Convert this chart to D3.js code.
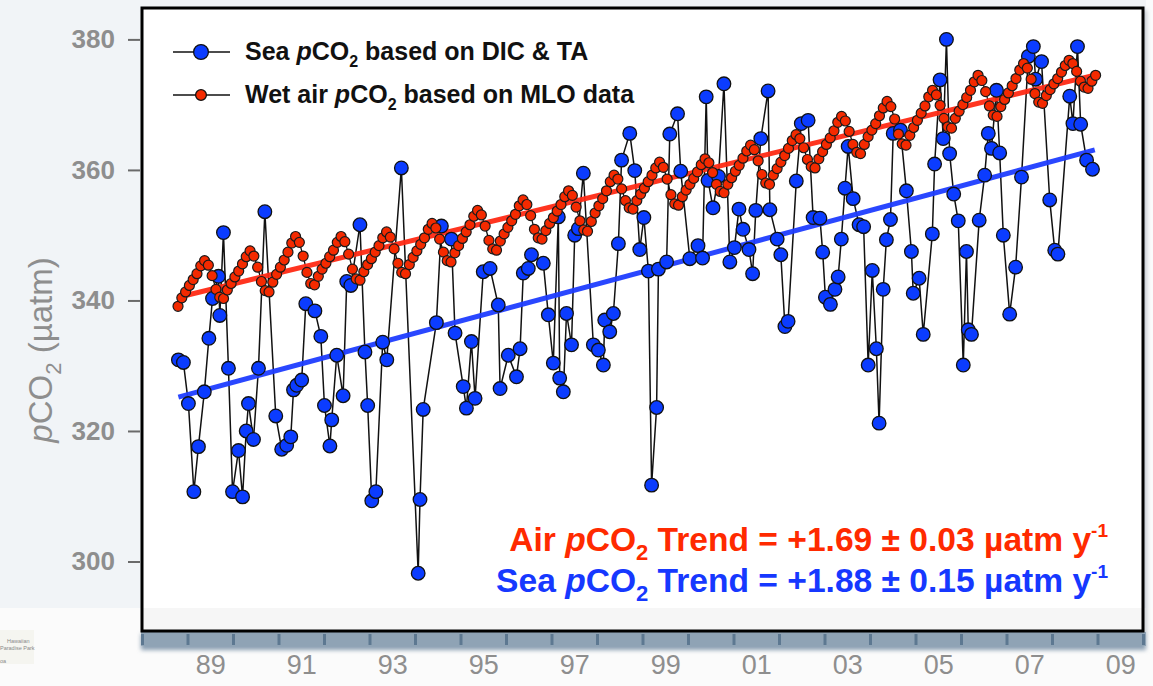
<!DOCTYPE html>
<html>
<head>
<meta charset="utf-8">
<script src="https://cdn.jsdelivr.net/npm/d3@7"></script>
<style>
  html, body { margin: 0; padding: 0; background: #f2f4f7; }
  svg { display: block; }
</style>
</head>
<body>
<svg id="chart" width="1153" height="686"></svg>
<script>
// ---- Sea pCO2 (HOT, computed from DIC & TA): decimal year / µatm ----
const seaYear = [
  1988.80, 1988.91, 1989.02, 1989.14, 1989.24, 1989.37, 1989.47, 1989.55, 1989.68, 1989.71,
  1989.79, 1989.90, 1989.99, 1990.12, 1990.21, 1990.29, 1990.34, 1990.45, 1990.56, 1990.70,
  1990.94, 1991.07, 1991.18, 1991.27, 1991.33, 1991.40, 1991.51, 1991.60, 1991.80, 1991.93,
  1992.01, 1992.13, 1992.17, 1992.28, 1992.42, 1992.50, 1992.59, 1992.79, 1992.90, 1992.96,
  1993.05, 1993.14, 1993.29, 1993.38, 1993.70, 1994.07, 1994.11, 1994.18, 1994.47, 1994.58,
  1994.80, 1994.88, 1995.06, 1995.13, 1995.24, 1995.32, 1995.50, 1995.65, 1995.83, 1995.87,
  1996.05, 1996.23, 1996.31, 1996.38, 1996.49, 1996.56, 1996.82, 1996.93, 1997.04, 1997.15,
  1997.18, 1997.26, 1997.33, 1997.44, 1997.51, 1997.59, 1997.70, 1997.92, 1998.03, 1998.14,
  1998.17, 1998.28, 1998.36, 1998.47, 1998.54, 1998.72, 1998.83, 1998.94, 1999.03, 1999.13,
  1999.20, 1999.31, 1999.35, 1999.53, 1999.60, 1999.77, 1999.84, 2000.04, 2000.22, 2000.32,
  2000.40, 2000.44, 2000.55, 2000.67, 2000.79, 2000.92, 2001.02, 2001.12, 2001.21, 2001.34,
  2001.42, 2001.49, 2001.60, 2001.76, 2001.80, 2001.96, 2002.04, 2002.13, 2002.20, 2002.38,
  2002.49, 2002.64, 2002.75, 2002.90, 2002.96, 2003.02, 2003.13, 2003.23, 2003.30, 2003.37,
  2003.45, 2003.52, 2003.63, 2003.76, 2003.86, 2003.96, 2004.05, 2004.14, 2004.20, 2004.29,
  2004.36, 2004.45, 2004.51, 2004.67, 2004.80, 2004.91, 2004.95, 2005.08, 2005.17, 2005.37,
  2005.42, 2005.54, 2005.61, 2005.68, 2005.75, 2005.84, 2005.94, 2006.05, 2006.12, 2006.16,
  2006.23, 2006.40, 2006.52, 2006.60, 2006.67, 2006.78, 2006.85, 2006.93, 2007.07, 2007.20,
  2007.33, 2007.48, 2007.59, 2007.64, 2007.77, 2007.95, 2008.06, 2008.13, 2008.39, 2008.46,
  2008.56, 2008.63, 2008.76, 2008.89
];
const seaPco2 = [
  330.9, 330.5, 324.2, 310.7, 317.6, 326.0, 334.2, 340.3, 343.7, 337.7,
  350.4, 329.6, 310.7, 317.0, 309.9, 320.0, 324.2, 318.7, 329.6, 353.6,
  322.3, 317.2, 317.8, 319.1, 326.3, 327.0, 327.8, 339.5, 338.4, 334.5,
  323.9, 317.7, 321.7, 331.6, 325.4, 342.9, 342.3, 351.6, 332.1, 323.9,
  309.3, 310.7, 333.6, 330.9, 360.3, 298.2, 309.5, 323.3, 336.6, 351.4,
  349.4, 335.0, 326.8, 323.5, 333.7, 325.0, 344.4, 344.9, 339.3, 326.5,
  331.6, 328.3, 332.6, 344.2, 344.9, 347.0, 345.7, 337.8, 330.4, 352.8,
  328.1, 326.0, 338.0, 333.2, 350.0, 351.0, 359.5, 333.2, 332.4, 330.1,
  337.0, 335.2, 338.0, 348.7, 361.5, 365.6, 359.9, 347.8, 352.7, 344.5,
  311.7, 323.6, 344.8, 345.9, 365.5, 368.6, 359.8, 346.4, 348.4, 346.5,
  371.2, 358.4, 354.2, 359.0, 373.2, 345.9, 348.1, 354.0, 350.9, 347.8,
  344.1, 353.8, 364.8, 372.1, 353.9, 349.4, 347.0, 336.0, 336.8, 358.3,
  367.1, 367.6, 352.7, 352.6, 347.4, 340.5, 339.4, 341.7, 343.6, 349.4,
  357.2, 363.6, 355.6, 351.6, 351.3, 330.1, 344.6, 332.6, 321.2, 341.7,
  349.3, 352.4, 365.6, 366.1, 356.8, 347.5, 341.1, 343.4, 334.8, 350.2,
  360.9, 373.8, 364.8, 380.0, 362.5, 356.3, 352.2, 330.1, 347.5, 335.5,
  334.8, 352.3, 359.2, 365.6, 363.3, 372.2, 362.6, 350.0, 337.9, 345.1,
  358.9, 377.4, 378.9, 373.9, 376.6, 355.4, 347.7, 347.1, 371.3, 367.1,
  378.9, 367.0, 361.5, 360.1
];

// ---- Wet air pCO2 from Mauna Loa, monthly from Oct 1988 to Dec 2008 (µatm) ----
const airFirstMonth = { year: 1988, month: 9 };   // October 1988 (0-based month)
const airPco2 = [
  339.1, 340.4, 341.3,
  342.3, 343.2, 344.1, 345.3, 346.1, 345.4, 343.8, 341.7, 340.5, 340.3, 341.6, 342.6,
  343.6, 344.5, 345.6, 346.7, 347.6, 346.8, 345.1, 342.9, 341.5, 341.3, 342.8, 344.0,
  345.1, 346.2, 347.4, 348.8, 349.8, 348.9, 346.8, 344.3, 342.6, 342.4, 343.7, 344.8,
  345.7, 346.7, 347.7, 348.9, 349.8, 349.0, 347.1, 344.8, 343.3, 343.1, 344.4, 345.5,
  346.4, 347.4, 348.4, 349.6, 350.5, 349.7, 347.9, 345.7, 344.3, 344.1, 345.5, 346.6,
  347.6, 348.6, 349.6, 350.9, 351.8, 351.1, 349.4, 347.4, 346.1, 345.9, 347.3, 348.4,
  349.5, 350.5, 351.6, 352.9, 353.8, 353.1, 351.4, 349.2, 347.9, 347.7, 349.1, 350.2,
  351.2, 352.2, 353.2, 354.5, 355.4, 354.7, 353.0, 350.9, 349.6, 349.4, 350.7, 351.8,
  352.7, 353.7, 354.7, 355.9, 356.8, 356.1, 354.3, 352.2, 350.8, 350.6, 352.1, 353.4,
  354.5, 355.6, 356.8, 358.2, 359.2, 358.6, 357.1, 355.3, 354.2, 354.0, 355.3, 356.3,
  357.2, 358.2, 359.2, 360.3, 361.2, 360.4, 358.6, 356.2, 354.8, 354.6, 355.9, 356.9,
  357.8, 358.7, 359.7, 360.8, 361.7, 361.1, 359.6, 357.8, 356.7, 356.5, 357.8, 358.8,
  359.8, 360.7, 361.8, 362.9, 363.8, 363.1, 361.4, 359.3, 358.0, 357.8, 359.2, 360.2,
  361.2, 362.2, 363.3, 364.5, 365.4, 364.8, 363.4, 361.6, 360.5, 360.3, 361.7, 362.8,
  363.9, 364.9, 366.0, 367.3, 368.2, 367.5, 365.9, 363.9, 362.7, 362.5, 363.9, 365.1,
  366.1, 367.1, 368.3, 369.5, 370.5, 369.7, 367.8, 365.5, 364.0, 363.8, 365.3, 366.5,
  367.6, 368.7, 369.8, 371.2, 372.2, 371.5, 369.9, 367.9, 366.6, 366.4, 367.9, 369.0,
  370.0, 371.1, 372.2, 373.5, 374.5, 373.7, 372.0, 369.8, 368.4, 368.2, 369.7, 370.8,
  371.8, 372.9, 374.0, 375.3, 376.3, 375.6, 373.9, 371.7, 370.4, 370.2, 371.4, 372.3,
  373.2, 374.0, 375.0, 376.0, 376.8, 376.3, 375.1, 373.6, 372.7, 372.5, 373.6, 374.5
];

// ---- Linear trends (slope in µatm per year) ----
const airTrend = { slope: 1.69, err: 0.03, from: 1988.98, to: 2008.94, startValue: 340.8 };
const seaTrend = { slope: 1.88, err: 0.15, from: 1988.80, to: 2008.94, startValue: 325.2 };

// ---- Axis ticks ----
const yTicks = [300, 320, 340, 360, 380];
const yearTicks = d3.range(1988, 2011);                 // yearly tick marks
const yearLabels = [1989, 1991, 1993, 1995, 1997, 1999, 2001, 2003, 2005, 2007, 2009];

// ---------------------------------------------------------------------------
const FONT = "'Liberation Sans', Arial, Helvetica, sans-serif";
const frame = { left: 142, right: 1143, top: 8, bottom: 631 };

const svg = d3.select("#chart");

const x = d3.scaleLinear().domain([1988, 2010]).range([frame.left, frame.right]);
const y = d3.scaleLinear().domain([300, 380]).range([561.5, 39.4]);

const seaData = seaYear.map((t, i) => ({ t, v: seaPco2[i] }));
const airData = airPco2.map((v, i) => ({
  t: airFirstMonth.year + (airFirstMonth.month + i + 0.5) / 12,
  v
}));

// page background (a slide: pale blue-grey, lighter strip along the bottom)
svg.append("rect").attr("width", 1153).attr("height", 686).attr("fill", "#f1f4f7");
svg.append("rect").attr("x", 0).attr("y", 608).attr("width", 1153).attr("height", 78).attr("fill", "#fbfbfb");
svg.append("rect").attr("x", 1146).attr("y", 0).attr("width", 7).attr("height", 608).attr("fill", "#fafbfc");

const defs = svg.append("defs");
defs.append("filter").attr("id", "soft").attr("x", "-5%").attr("y", "-50%").attr("width", "110%").attr("height", "200%")
  .append("feGaussianBlur").attr("stdDeviation", 2.2);
defs.append("filter").attr("id", "shadow").attr("x", "-5%").attr("y", "-5%").attr("width", "110%").attr("height", "110%")
  .append("feGaussianBlur").attr("stdDeviation", 2);
defs.append("clipPath").attr("id", "plotClip")
  .append("rect").attr("x", frame.left).attr("y", frame.top)
  .attr("width", frame.right - frame.left).attr("height", frame.bottom - frame.top);

// soft shadow behind the framed plot
svg.append("rect").attr("x", frame.left + 2).attr("y", frame.top + 2)
  .attr("width", frame.right - frame.left + 2).attr("height", frame.bottom - frame.top + 2)
  .attr("fill", "#9aa3ad").attr("opacity", 0.5).attr("filter", "url(#shadow)");

// grey-blue ruler band under the plot with its shadow
svg.append("rect").attr("x", frame.left - 1).attr("y", 634).attr("width", frame.right - frame.left + 4)
  .attr("height", 16).attr("fill", "#8a9fb2").attr("filter", "url(#soft)");
svg.append("rect").attr("x", frame.left - 1).attr("y", 632).attr("width", frame.right - frame.left + 4)
  .attr("height", 14).attr("fill", "#8fa3b5");

// plot area
svg.append("rect").attr("x", frame.left).attr("y", frame.top)
  .attr("width", frame.right - frame.left).attr("height", frame.bottom - frame.top).attr("fill", "#ffffff");
svg.append("rect").attr("x", frame.left).attr("y", 608)
  .attr("width", frame.right - frame.left).attr("height", frame.bottom - 608).attr("fill", "#f6f6f6");

// x axis: yearly ticks on the band, two-digit labels centred on odd years
const xTickAxis = d3.axisBottom(x).tickValues(yearTicks).tickSize(11).tickFormat("");
const gxt = svg.append("g").attr("transform", `translate(0,${frame.bottom + 3})`).call(xTickAxis);
gxt.select(".domain").remove();
gxt.selectAll(".tick line").attr("stroke", "#5d7891").attr("stroke-width", 3);

const xLabelAxis = d3.axisBottom(x)
  .tickValues(yearLabels.map(yr => yr + 0.5))
  .tickSize(0).tickPadding(0)
  .tickFormat(d => String(Math.floor(d) % 100).padStart(2, "0"));
const gxl = svg.append("g").attr("transform", "translate(0,655)").call(xLabelAxis);
gxl.select(".domain").remove();
gxl.selectAll("text").attr("font-family", FONT).attr("font-size", 27)
  .attr("fill", "#8e8e8e").attr("dy", "0.72em");

// y axis
const yAxis = d3.axisLeft(y).tickValues(yTicks).tickSize(12).tickPadding(13);
const gy = svg.append("g").attr("transform", "translate(140,0)").call(yAxis);
gy.select(".domain").remove();
gy.selectAll(".tick line").attr("stroke", "#6a6a6a").attr("stroke-width", 2);
gy.selectAll("text").attr("font-family", FONT).attr("font-size", 26).attr("font-weight", "bold")
  .attr("fill", "#8e8e8e");

// y axis title: pCO2 (µatm)
const yTitle = svg.append("text")
  .attr("transform", "translate(52,350) rotate(-90)")
  .attr("text-anchor", "middle").attr("font-family", FONT).attr("font-size", 33).attr("fill", "#8e8e8e");
yTitle.append("tspan").attr("font-style", "italic").text("p");
yTitle.append("tspan").text("CO");
yTitle.append("tspan").attr("font-size", 22).attr("dy", 9).text("2");
yTitle.append("tspan").attr("dy", -9).text(" (µatm)");

// ---- data ----
const plot = svg.append("g").attr("clip-path", "url(#plotClip)");
const line = d3.line().x(d => x(d.t)).y(d => y(d.v));

plot.append("path").datum(seaData).attr("d", line)
  .attr("fill", "none").attr("stroke", "#111").attr("stroke-width", 1.5);
plot.append("path").datum(airData).attr("d", line)
  .attr("fill", "none").attr("stroke", "#111").attr("stroke-width", 1.3);

function trendPoints(tr) {
  return [
    { t: tr.from, v: tr.startValue },
    { t: tr.to, v: tr.startValue + tr.slope * (tr.to - tr.from) }
  ];
}
plot.append("path").datum(trendPoints(seaTrend)).attr("d", line)
  .attr("stroke", "#1f3dff").attr("stroke-width", 5).attr("stroke-opacity", 0.95).attr("fill", "none");
plot.append("path").datum(trendPoints(airTrend)).attr("d", line)
  .attr("stroke", "#ff2a14").attr("stroke-width", 5).attr("stroke-opacity", 0.95).attr("fill", "none");

plot.selectAll("circle.sea").data(seaData).join("circle").attr("class", "sea")
  .attr("cx", d => x(d.t)).attr("cy", d => y(d.v)).attr("r", 6.8)
  .attr("fill", "#0b3cff").attr("stroke", "#111").attr("stroke-width", 1.3);
plot.selectAll("circle.air").data(airData).join("circle").attr("class", "air")
  .attr("cx", d => x(d.t)).attr("cy", d => y(d.v)).attr("r", 5)
  .attr("fill", "#f42a00").attr("stroke", "#1a1a1a").attr("stroke-width", 1.2);

// frame
svg.append("rect").attr("x", frame.left).attr("y", frame.top)
  .attr("width", frame.right - frame.left).attr("height", frame.bottom - frame.top)
  .attr("fill", "none").attr("stroke", "#000").attr("stroke-width", 3);

// ---- legend ----
const legendItems = [
  { y: 52, fill: "#0b3cff", r: 7.4, parts: ["Sea ", "p", "CO", "2", " based on DIC & TA"] },
  { y: 95, fill: "#f42a00", r: 5.4, parts: ["Wet air ", "p", "CO", "2", " based on MLO data"] }
];
const legend = svg.append("g");
legendItems.forEach(item => {
  legend.append("line").attr("x1", 173).attr("x2", 230).attr("y1", item.y).attr("y2", item.y)
    .attr("stroke", "#111").attr("stroke-width", 1.5);
  legend.append("circle").attr("cx", 201).attr("cy", item.y).attr("r", item.r)
    .attr("fill", item.fill).attr("stroke", "#111").attr("stroke-width", 1.3);
  const t = legend.append("text").attr("x", 245).attr("y", item.y + 8)
    .attr("font-family", FONT).attr("font-size", 25).attr("font-weight", "bold").attr("fill", "#111");
  t.append("tspan").text(item.parts[0]);
  t.append("tspan").attr("font-style", "italic").text(item.parts[1]);
  t.append("tspan").text(item.parts[2]);
  t.append("tspan").attr("font-size", 16).attr("dy", 7).text(item.parts[3]);
  t.append("tspan").attr("dy", -7).text(item.parts[4]);
});

// ---- trend annotations ----
function trendLabel(yPos, color, name, tr) {
  const t = svg.append("text").attr("x", 1108).attr("y", yPos).attr("text-anchor", "end")
    .attr("font-family", FONT).attr("font-size", 33.6).attr("font-weight", "bold").attr("fill", color);
  t.append("tspan").text(name + " ");
  t.append("tspan").attr("font-style", "italic").text("p");
  t.append("tspan").text("CO");
  t.append("tspan").attr("font-size", 22).attr("dy", 9).text("2");
  t.append("tspan").attr("dy", -9)
    .text(` Trend = +${tr.slope.toFixed(2)} ± ${tr.err.toFixed(2)} µatm y`);
  t.append("tspan").attr("font-size", 19).attr("dy", -14).text("-1");
}
trendLabel(551, "#ff2a00", "Air", airTrend);
trendLabel(592, "#1638ff", "Sea", seaTrend);

// small map fragment at the lower-left corner of the slide
const map = svg.append("g").attr("font-family", FONT).attr("fill", "#8a8a8a").attr("font-size", 5.5);
map.append("rect").attr("x", 0).attr("y", 630).attr("width", 34).attr("height", 34).attr("fill", "#f5f5f0");
map.append("text").attr("x", 7).attr("y", 643).text("Hawaiian");
map.append("text").attr("x", 0).attr("y", 650).text("Paradise Park");
map.append("text").attr("x", 0).attr("y", 663).text("oa");
</script>
</body>
</html>
